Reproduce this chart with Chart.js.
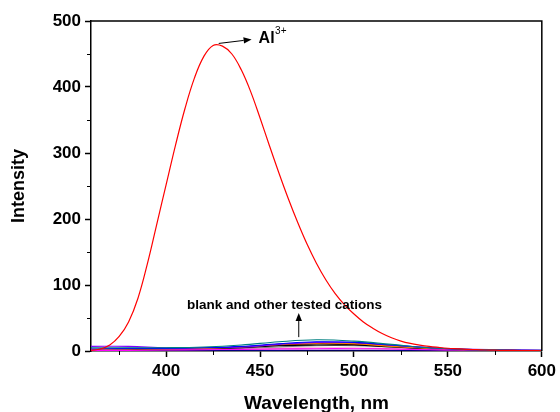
<!DOCTYPE html>
<html lang="en">
<head>
  <meta charset="UTF-8">
  <title>Fluorescence spectra</title>
  <script src="https://cdn.jsdelivr.net/npm/chart.js@4"></script>
  <style>
    html, body { margin: 0; padding: 0; background: #fff; }
    .chart-container { position: relative; width: 560px; height: 412px; }
  </style>
</head>
<body>
  <div class="chart-container">
    <canvas id="spectra-chart" width="560" height="412"></canvas>
  </div>

  <script>
    // axis ticks
    var xTicks = [400, 450, 500, 550, 600];
    var yTicks = [0, 100, 200, 300, 400, 500];
    var xMinor = [375, 425, 475, 525, 575];
    var yMinor = [50, 150, 250, 350, 450];

    // Al3+ emission
    var alWavelength = [360, 365, 370, 375, 380, 385, 390, 395, 400, 405, 410, 415, 420, 425, 430,
      435, 440, 445, 450, 455, 460, 465, 470, 475, 480, 485, 490, 495, 500, 505, 510, 515, 520,
      525, 530, 535, 540, 545, 550, 555, 560, 565, 570, 575, 580, 585, 590, 595, 600];
    var alIntensity = [1, 3, 9, 22, 44, 80, 132, 192, 252, 312, 367, 413, 446, 463, 462,
      450, 426, 393, 353, 311, 270, 231, 195, 162, 133, 108, 87, 70, 56, 44, 34.5, 26.5, 20,
      15, 11.5, 9, 7, 5.5, 4.2, 3.3, 2.5, 2, 1.5, 1.2, 1, 0.8, 0.6, 0.5, 0.4];

    // blank and other cations
    var otherWavelength = [360, 380, 400, 420, 440, 460, 480, 500, 520, 540, 560, 580, 600];
    var tealIntensity    = [5, 5, 5, 6, 9, 14, 17, 15, 10, 5, 2.5, 1.5, 1];
    var blueIntensity    = [3, 4, 4, 5, 7, 11, 14, 13, 9, 5, 2, 1, 0.8];
    var violetIntensity  = [7, 7, 5, 5, 6, 10, 13, 13, 9, 5, 3, 2, 1.5];
    var magentaIntensity = [1, 1, 1.5, 2, 2.5, 3, 3.5, 3.5, 3, 2, 1.5, 1, 0.8];
    var orangeIntensity  = [2, 3, 3, 4, 6, 10, 12, 11, 7, 4, 2, 1, 0.5];
    var blackIntensity   = [1, 2, 2, 3, 5, 8, 9, 9, 6, 3, 1.5, 1, 0.5];
    var grayIntensity    = [3, 3, 3, 3.5, 4, 6, 8, 8, 6, 4, 2, 1, 0.5];
    var pinkIntensity    = [2, 2, 2, 2.5, 3, 4, 4.5, 4.5, 3.5, 2.5, 1.5, 1, 0.5];
    var maroonIntensity  = [1.5, 2, 2.5, 3.5, 5, 9, 11, 10, 7, 4, 2, 1, 0.5];
    var navyIntensity    = [0.5, 0.5, 0.5, 0.8, 1, 1, 1.2, 1.2, 1, 0.8, 0.5, 0.3, 0.2];
    var oliveIntensity   = [2, 3, 3, 4, 6, 9, 11, 10, 7, 4, 2, 1, 0.5];
    var purpleIntensity  = [2, 3, 3, 4, 6, 10, 12, 12, 8, 4, 2, 1, 0.5];

    var FONT = '"Liberation Sans", Arial, sans-serif';

    function toPoints(xs, ys) {
      return xs.map(function (x, i) { return { x: x, y: ys[i] }; });
    }

    function spectrum(xs, ys, color, width) {
      return {
        data: toPoints(xs, ys),
        borderColor: color,
        borderWidth: width || 1.1,
        pointRadius: 0,
        tension: 0.4,
        fill: false
      };
    }

    function drawArrow(ctx, x1, y1, x2, y2) {
      var ang = Math.atan2(y2 - y1, x2 - x1);
      var len = 8, half = 3.2;
      ctx.beginPath();
      ctx.moveTo(x1, y1);
      ctx.lineTo(x2 - Math.cos(ang) * len, y2 - Math.sin(ang) * len);
      ctx.stroke();
      ctx.beginPath();
      ctx.moveTo(x2, y2);
      ctx.lineTo(x2 - Math.cos(ang) * len - Math.sin(ang) * half, y2 - Math.sin(ang) * len + Math.cos(ang) * half);
      ctx.lineTo(x2 - Math.cos(ang) * len + Math.sin(ang) * half, y2 - Math.sin(ang) * len - Math.cos(ang) * half);
      ctx.closePath();
      ctx.fill();
    }

    var extras = {
      id: 'extras',
      afterDraw: function (chart) {
        var ctx = chart.ctx, xs = chart.scales.x, ys = chart.scales.y, area = chart.chartArea;
        ctx.save();
        ctx.strokeStyle = '#000';
        ctx.fillStyle = '#000';

        // frame top and right
        ctx.lineWidth = 1.5;
        ctx.beginPath();
        ctx.moveTo(area.left, area.top);
        ctx.lineTo(area.right, area.top);
        ctx.lineTo(area.right, area.bottom);
        ctx.stroke();

        // minor ticks
        ctx.lineWidth = 1;
        xMinor.forEach(function (v) {
          var px = Math.round(xs.getPixelForValue(v)) + 0.5;
          ctx.beginPath(); ctx.moveTo(px, area.bottom); ctx.lineTo(px, area.bottom + 4); ctx.stroke();
        });
        yMinor.forEach(function (v) {
          var py = Math.round(ys.getPixelForValue(v)) + 0.5;
          ctx.beginPath(); ctx.moveTo(area.left, py); ctx.lineTo(area.left - 4, py); ctx.stroke();
        });

        // Al3+ arrow and label
        var ax1 = xs.getPixelForValue(428), ay1 = ys.getPixelForValue(466);
        var ax2 = xs.getPixelForValue(445.5), ay2 = ys.getPixelForValue(472);
        drawArrow(ctx, ax1, ay1, ax2, ay2);
        ctx.textBaseline = 'alphabetic';
        ctx.textAlign = 'left';
        ctx.font = 'bold 16px ' + FONT;
        ctx.fillText('Al', ax2 + 7, ay2 + 3.5);
        var w = ctx.measureText('Al').width;
        ctx.font = '10px ' + FONT;
        ctx.fillText('3+', ax2 + 7 + w + 0.5, ay2 - 5.5);

        // other cations arrow and label
        drawArrow(ctx, xs.getPixelForValue(470.6), ys.getPixelForValue(21),
          xs.getPixelForValue(470.6), ys.getPixelForValue(57.5));
        ctx.textAlign = 'center';
        ctx.font = 'bold 13.5px ' + FONT;
        ctx.fillText('blank and other tested cations', xs.getPixelForValue(463), ys.getPixelForValue(63));
        ctx.restore();
      }
    };

    var tickFont = { family: FONT, size: 17, weight: 'bold' };
    var grid = {
      drawOnChartArea: false,
      drawTicks: true,
      tickLength: 6,
      tickWidth: 1.5,
      tickColor: '#000'
    };
    var border = { display: true, color: '#000', width: 1.5 };

    new Chart(document.getElementById('spectra-chart'), {
      type: 'line',
      data: {
        datasets: [
          spectrum(alWavelength, alIntensity, '#ff0000', 1.2),
          spectrum(otherWavelength, tealIntensity, '#008080'),
          spectrum(otherWavelength, blueIntensity, '#0000ff'),
          spectrum(otherWavelength, violetIntensity, '#8000ff'),
          spectrum(otherWavelength, magentaIntensity, '#ff00ff'),
          spectrum(otherWavelength, orangeIntensity, '#ff8000'),
          spectrum(otherWavelength, blackIntensity, '#000000'),
          spectrum(otherWavelength, grayIntensity, '#808080'),
          spectrum(otherWavelength, pinkIntensity, '#ff80c0'),
          spectrum(otherWavelength, maroonIntensity, '#800000'),
          spectrum(otherWavelength, navyIntensity, '#000080'),
          spectrum(otherWavelength, oliveIntensity, '#808000'),
          spectrum(otherWavelength, purpleIntensity, '#800080')
        ]
      },
      options: {
        responsive: false,
        animation: false,
        layout: { padding: { top: 21, right: 16, left: 0, bottom: 0 } },
        plugins: {
          legend: { display: false },
          tooltip: { enabled: false }
        },
        scales: {
          x: {
            type: 'linear',
            min: 360,
            max: 600,
            afterBuildTicks: function (s) { s.ticks = xTicks.map(function (v) { return { value: v }; }); },
            afterFit: function (s) { s.height = 61; },
            ticks: { font: tickFont, color: '#000', padding: 4, maxRotation: 0, autoSkip: false },
            grid: grid,
            border: border,
            title: {
              display: true,
              text: 'Wavelength, nm',
              color: '#000',
              font: { family: FONT, size: 19, weight: 'bold', lineHeight: 1 },
              padding: { top: 0, bottom: -1 }
            }
          },
          y: {
            min: 0,
            max: 500,
            afterBuildTicks: function (s) { s.ticks = yTicks.map(function (v) { return { value: v }; }); },
            afterFit: function (s) { s.width = 91; },
            ticks: { font: tickFont, color: '#000', padding: 4 },
            grid: grid,
            border: border,
            title: {
              display: true,
              text: 'Intensity',
              color: '#000',
              font: { family: FONT, size: 18, weight: 'bold', lineHeight: 1 },
              padding: { top: 10, bottom: 0 }
            }
          }
        }
      },
      plugins: [extras]
    });
  </script>
</body>
</html>
